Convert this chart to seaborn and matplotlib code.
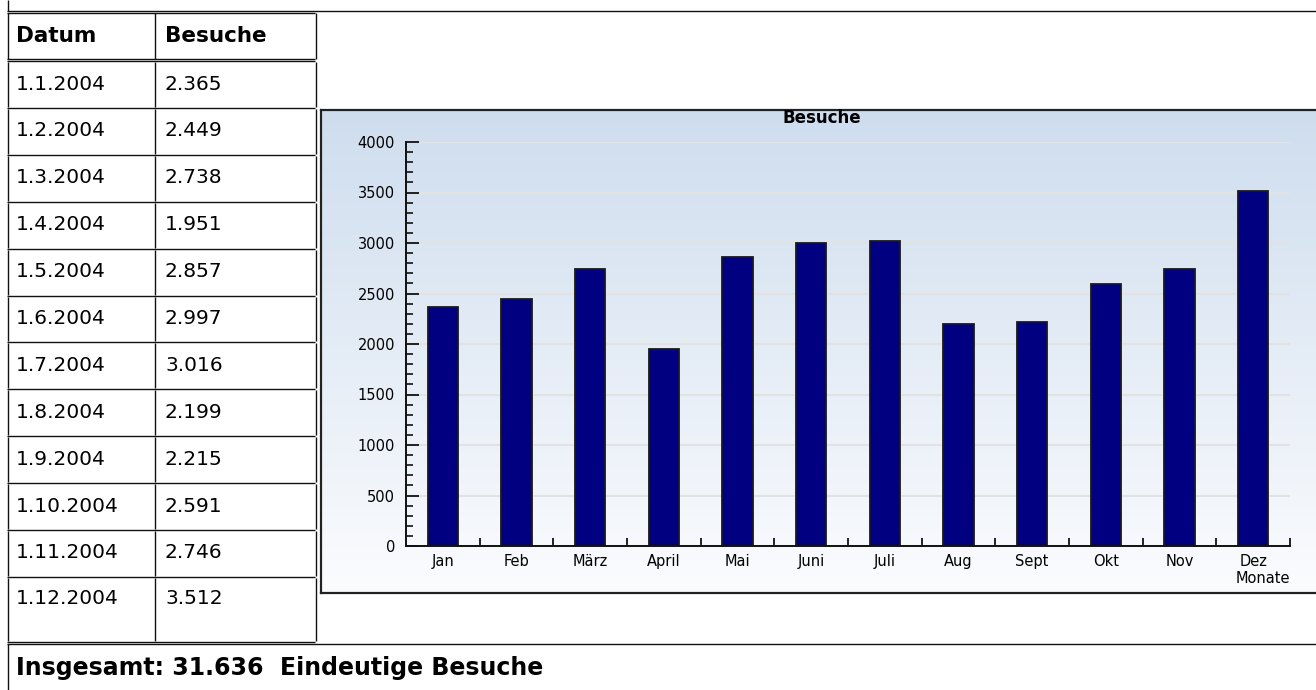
import numpy as np
import matplotlib
matplotlib.use("Agg")
import matplotlib.pyplot as plt
import seaborn as sns
from matplotlib.ticker import MultipleLocator, FixedLocator

# data
monate = ["Jan", "Feb", "März", "April", "Mai", "Juni", "Juli", "Aug", "Sept", "Okt", "Nov", "Dez"]
datum = ["1.1.2004", "1.2.2004", "1.3.2004", "1.4.2004", "1.5.2004", "1.6.2004",
         "1.7.2004", "1.8.2004", "1.9.2004", "1.10.2004", "1.11.2004", "1.12.2004"]
besuche = [2365, 2449, 2738, 1951, 2857, 2997, 3016, 2199, 2215, 2591, 2746, 3512]


def de_num(v):
    return f"{v:,}".replace(",", ".")


sns.set_theme(style="white")
plt.rcParams["font.family"] = ["DejaVu Sans"]
plt.rcParams["text.color"] = "black"
plt.rcParams["axes.labelcolor"] = "black"
plt.rcParams["xtick.color"] = "black"
plt.rcParams["ytick.color"] = "black"

W, H = 1316, 690
fig = plt.figure(figsize=(W / 100, H / 100), dpi=100)
fig.patch.set_facecolor("white")

# page layer in pixel coords (table + borders)
pg = fig.add_axes([0, 0, 1, 1])
pg.set_xlim(0, W)
pg.set_ylim(H, 0)
pg.axis("off")

lc = "#111111"
lw = 1.0


def hline(y, x0, x1):
    pg.plot([x0, x1], [y, y], color=lc, lw=lw, solid_capstyle="butt")


def vline(x, y0, y1):
    pg.plot([x, x], [y0, y1], color=lc, lw=lw, solid_capstyle="butt")


# top border
hline(10.5, 7, W)
vline(7.5, 0, 10.5)

# header row
for y in (12.5, 58.5):
    hline(y, 7, 315)
for x in (7.5, 155, 315.5):
    vline(x, 12.5, 58.5)
pg.text(16, 36, "Datum", fontsize=15.5, fontweight="bold", va="center")
pg.text(165, 36, "Besuche", fontsize=15.5, fontweight="bold", va="center")

# data rows
tfs = 14.5
seps = [61 + 46.9 * k for k in range(12)] + [642]
for i, (d, v) in enumerate(zip(datum, besuche)):
    top, bot = seps[i], seps[i + 1]
    yc = top + 23 if i < 11 else 598
    hline(top, 7, 315)
    for x in (7.5, 155, 315.5):
        vline(x, top + 1, bot - 1)
    pg.text(16, yc, d, fontsize=tfs, va="center")
    pg.text(165, yc, de_num(v), fontsize=tfs, va="center")
hline(642, 7, 315)

# total row
hline(644, 7, W)
vline(7.5, 644, H)
pg.text(16, 668, f"Insgesamt: {de_num(sum(besuche))}  Eindeutige Besuche",
        fontsize=17, fontweight="bold", va="center")

# chart panel with gradient
panel = fig.add_axes([321 / W, 1 - 593 / H, (W - 321 + 6) / W, (593 - 110) / H])
grad = np.linspace(0, 1, 256).reshape(-1, 1)
top_c = np.array([206, 221, 238]) / 255
bot_c = np.array([251, 252, 254]) / 255
img = top_c + (bot_c - top_c) * grad[..., None]
panel.imshow(img, aspect="auto", extent=[0, 1, 0, 1], origin="upper")
panel.set_xticks([])
panel.set_yticks([])
for s in panel.spines.values():
    s.set_color("#222222")
    s.set_linewidth(1.6)

fig.text(822 / W, 1 - 118 / H, "Besuche", ha="center", va="center",
         fontsize=12, fontweight="bold")

# bar chart
ax = fig.add_axes([406 / W, 1 - 546 / H, 884 / W, 404 / H])
ax.set_facecolor("none")
sns.barplot(x=monate, y=besuche, color="#000080", saturation=1, width=0.41,
            edgecolor="#1a1a1a", linewidth=1.3, ax=ax)
ax.set_xlim(-0.5, len(monate) - 0.5)
ax.set_ylim(0, 4000)
ax.yaxis.set_major_locator(MultipleLocator(500))
ax.yaxis.set_minor_locator(MultipleLocator(100))
ax.xaxis.set_minor_locator(FixedLocator(np.arange(0.5, len(monate), 1)))
ax.grid(False)
ax.yaxis.grid(True, which="major", color="#e2e2e2", lw=1.5)
ax.set_axisbelow(True)
for s in ["top", "right"]:
    ax.spines[s].set_visible(False)
for s in ["left", "bottom"]:
    ax.spines[s].set_color("#111111")
    ax.spines[s].set_linewidth(1.4)
ax.tick_params(axis="y", which="major", direction="in", length=9, width=1.3,
               color="#111111", labelsize=10.5, pad=8, left=True)
ax.tick_params(axis="y", which="minor", direction="in", length=5, width=1.2,
               color="#111111", left=True)
ax.tick_params(axis="x", which="major", length=0, labelsize=10.5, pad=6)
ax.tick_params(axis="x", which="minor", direction="in", length=6, width=1.3,
               color="#111111", bottom=True)
ax.set_xlabel("Monate", loc="right", fontsize=10.5, labelpad=1)
ax.set_ylabel("")

fig.savefig("out.png", dpi=100)
